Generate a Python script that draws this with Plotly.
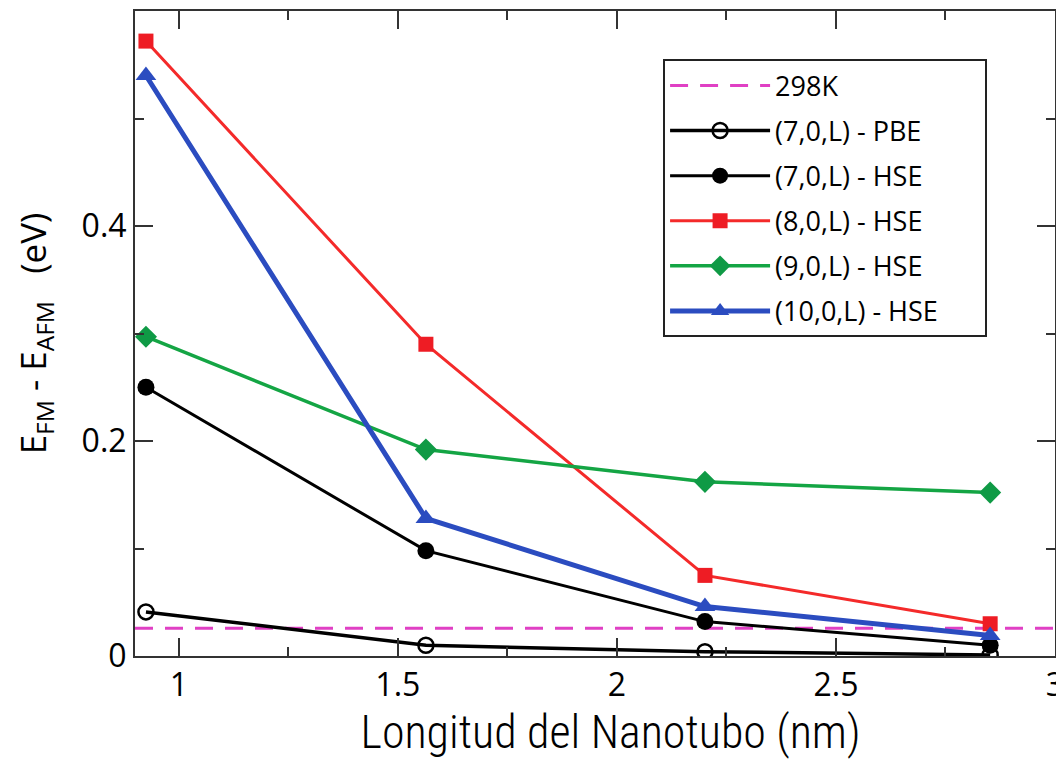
import plotly.graph_objects as go

# ---- data ----
lengths = [0.925, 1.564, 2.201, 2.852]
pbe_7 = [0.041, 0.010, 0.004, 0.001]
hse_7 = [0.250, 0.098, 0.032, 0.010]
hse_8 = [0.572, 0.290, 0.075, 0.030]
hse_9 = [0.297, 0.192, 0.162, 0.152]
hse_10 = [0.540, 0.128, 0.046, 0.019]
kT_298 = 0.0257
x_range = [0.9, 3.0]
y_range = [0.0, 0.6]
x_ticks = [1, 1.5, 2, 2.5, 3]
x_ticklabels = ["1", "1.5", "2", "2.5", "3"]
y_ticks = [0, 0.2, 0.4]
y_ticklabels = ["0", "0.2", "0.4"]

LABEL_FONT = "Open Sans, Noto Sans, DejaVu Sans, sans-serif"
TITLE_FONT = "Roboto Condensed, Liberation Sans Narrow, Arial Narrow, Liberation Sans, sans-serif"

fig = go.Figure()

fig.add_trace(go.Scatter(
    x=x_range, y=[kT_298, kT_298], mode="lines", name="298K",
    line=dict(color="#e040c4", width=3, dash="18px,12px"),
    legendgroup="g0"))

fig.add_trace(go.Scatter(
    x=lengths, y=pbe_7, mode="lines+markers", name="(7,0,L) - PBE",
    line=dict(color="black", width=3.5),
    marker=dict(symbol="circle-open", size=15, color="black", line=dict(width=2.5)),
    legendgroup="g1"))

fig.add_trace(go.Scatter(
    x=lengths, y=hse_7, mode="lines+markers", name="(7,0,L) - HSE",
    line=dict(color="black", width=3),
    marker=dict(symbol="circle", size=17, color="black"),
    legendgroup="g2"))

fig.add_trace(go.Scatter(
    x=lengths, y=hse_8, mode="lines+markers", name="(8,0,L) - HSE",
    line=dict(color="#f42a2a", width=3),
    marker=dict(symbol="square", size=15, color="#ee1c24"),
    legendgroup="g3"))

fig.add_trace(go.Scatter(
    x=lengths, y=hse_9, mode="lines+markers", name="(9,0,L) - HSE",
    line=dict(color="#14a544", width=3.5),
    marker=dict(symbol="diamond", size=17, color="#0f9a45"),
    legendgroup="g4"))

fig.add_trace(go.Scatter(
    x=lengths, y=hse_10, mode="lines+markers",
    name="(10,0,L) - HSE&nbsp;&nbsp;&nbsp;&nbsp;&nbsp;&nbsp;",
    line=dict(color="#2b4cc0", width=5),
    marker=dict(symbol="triangle-up", size=18, color="#2b4cc0"),
    legendgroup="g5"))

axis_common = dict(
    showline=True, linecolor="#333333", linewidth=2, mirror="ticks",
    ticks="inside", ticklen=18, tickwidth=2, tickcolor="#333333",
    showgrid=False, zeroline=False, automargin=False,
    ticklabeloverflow="allow",
    tickfont=dict(family=LABEL_FONT, size=32, color="black"),
)

fig.update_xaxes(
    range=x_range, tickmode="array", tickvals=x_ticks, ticktext=x_ticklabels,
    minor=dict(ticks="inside", ticklen=9, tickwidth=2, tickcolor="#333333", dtick=0.25, tick0=0),
    title=dict(text="&nbsp;&nbsp;&nbsp;Longitud del Nanotubo (nm)",
               font=dict(family=TITLE_FONT, size=46, color="black", weight=300), standoff=10),
    **axis_common)

fig.update_yaxes(
    range=y_range, tickmode="array", tickvals=y_ticks, ticktext=y_ticklabels,
    minor=dict(ticks="inside", ticklen=9, tickwidth=2, tickcolor="#333333", dtick=0.1, tick0=0),
    title=dict(text="E<sub>FM</sub> - E<sub>AFM</sub>&nbsp;&nbsp;&nbsp;(eV)",
               font=dict(family=LABEL_FONT, size=35, color="black"), standoff=24),
    **axis_common)

fig.update_layout(
    width=1056, height=752,
    margin=dict(l=127, r=9, t=3, b=104),
    paper_bgcolor="white", plot_bgcolor="white",
    showlegend=True,
    legend=dict(
        x=0.574, y=0.925, xanchor="left", yanchor="top",
        bgcolor="white", bordercolor="#222222", borderwidth=2,
        font=dict(family=LABEL_FONT, size=27, color="black"),
        tracegroupgap=7, itemwidth=100,
    ),
)

fig.write_html("out.html")
